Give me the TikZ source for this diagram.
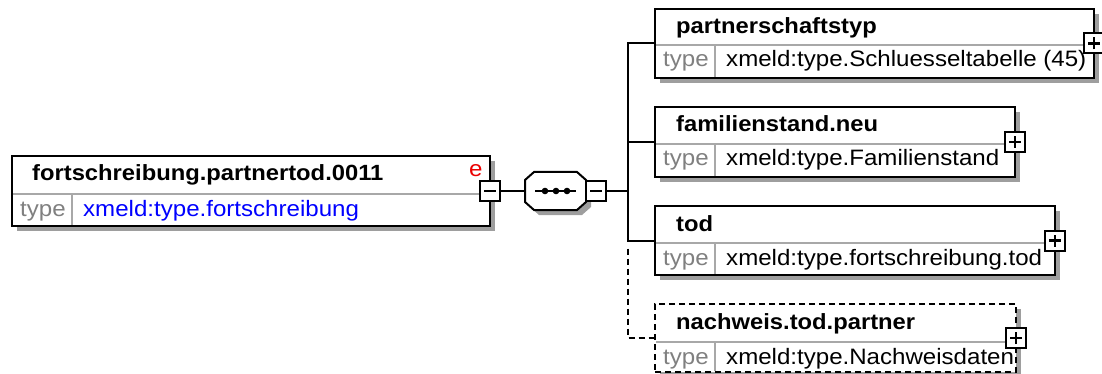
\documentclass[tikz,border=0pt]{standalone}
\usepackage{fontspec}
\setmainfont[FakeStretch=1.08]{Liberation Sans}
\usetikzlibrary{shadows}
\definecolor{shadowc}{gray}{0.62}
\definecolor{typec}{gray}{0.5}
\definecolor{innerc}{gray}{0.66}
\definecolor{valblue}{RGB}{0,0,255}
\definecolor{ered}{RGB}{235,0,0}
\begin{document}
\begin{tikzpicture}[x=1pt,y=-1pt,
  shad/.style={drop shadow={shadow xshift=5pt, shadow yshift=-5pt, fill=shadowc, opacity=1}},
  elbox/.style={draw=black, line width=2pt, fill=white, inner sep=0pt, outer sep=0pt, shad},
  optbox/.style={elbox, dash pattern=on 6pt off 4pt},
  expbox/.style={draw=black, line width=2pt, fill=white, minimum size=20pt, inner sep=0pt, outer sep=0pt},
  conn/.style={line width=2pt, draw=black},
  optconn/.style={conn, dash pattern=on 6pt off 4pt},
  innerln/.style={line width=2pt, draw=innerc},
  ttl/.style={anchor=base west, font=\fontsize{22pt}{26pt}\selectfont\bfseries, inner sep=0pt},
  tlab/.style={anchor=base west, font=\fontsize{22.3pt}{26pt}\selectfont, text=typec, inner sep=0pt},
  tval/.style={anchor=base west, font=\fontsize{22.3pt}{26pt}\selectfont, inner sep=0pt},
  symb/.style={line width=2.4pt, draw=black},
  seqframe/.style={draw=none, minimum width=61pt, minimum height=38pt, inner sep=0pt, outer sep=0pt},
  seqshape/.style={draw=black, line width=2pt, fill=white, line join=miter, shad},
]
\useasboundingbox (0,0) rectangle (1102,374);

% main element
\node[elbox, minimum width=478pt, minimum height=70pt] (main) at (251,191) {};
\draw[innerln] (13,194) -- (489,194);
\draw[innerln] (72,195) -- (72,225);
\node[ttl] (mainT) at (32,181) {fortschreibung.partnertod.0011};
\node[tlab] (mainL) at (20,216) {type};
\node[tval, text=valblue] (mainV) at (83,216) {xmeld:type.fortschreibung};
\node[anchor=base west, font=\fontsize{22.3pt}{26pt}\selectfont, text=ered, inner sep=0pt] (mainE) at (469,176) {e};
\node[expbox] (mainX) at (main.east) {};
\draw[symb] ([xshift=-6pt]mainX.center) -- ([xshift=6pt]mainX.center);

% sequence compositor
\node[seqframe] (seq) at (555.5,191) {};
\draw[seqshape] ([xshift=9pt]seq.north west) -- ([xshift=-9pt]seq.north east)
  -- ([yshift=-8pt]seq.north east) -- ([yshift=8pt]seq.south east)
  -- ([xshift=-9pt]seq.south east) -- ([xshift=9pt]seq.south west)
  -- ([yshift=8pt]seq.south west) -- ([yshift=-8pt]seq.north west) -- cycle;
\draw[conn] ([xshift=-20.5pt]seq.center) -- ([xshift=20.5pt]seq.center);
\fill ([xshift=-10.5pt]seq.center) circle (3.3pt);
\fill ([xshift=0.5pt]seq.center) circle (3.3pt);
\fill ([xshift=11.5pt]seq.center) circle (3.3pt);
\node[expbox, anchor=west] (seqX) at (seq.east) {};
\draw[symb] ([xshift=-6pt]seqX.center) -- ([xshift=6pt]seqX.center);
\draw[conn] (mainX.east) -- (seq.west);

% children
\node[elbox, minimum width=439pt, minimum height=69pt] (box1) at (874.5,43.5) {};
\draw[innerln] (656,45) -- (1093,45);
\draw[innerln] (715,46) -- (715,77);
\node[ttl] (t1) at (676,34) {partnerschaftstyp};
\node[tlab] (l1) at (663,67) {type};
\node[tval] (v1) at (726,67) {xmeld:type.Schluesseltabelle (45)};
\node[expbox] (x1) at (box1.east) {};
\draw[symb] ([xshift=-6pt]x1.center) -- ([xshift=6pt]x1.center);
\draw[symb] ([yshift=-6pt]x1.center) -- ([yshift=6pt]x1.center);

\node[elbox, minimum width=360pt, minimum height=70pt] (box2) at (835,142) {};
\draw[innerln] (656,144) -- (1014,144);
\draw[innerln] (715,145) -- (715,176);
\node[ttl] (t2) at (676,132) {familienstand.neu};
\node[tlab] (l2) at (663,166) {type};
\node[tval] (v2) at (726,166) {xmeld:type.Familienstand};
\node[expbox] (x2) at (box2.east) {};
\draw[symb] ([xshift=-6pt]x2.center) -- ([xshift=6pt]x2.center);
\draw[symb] ([yshift=-6pt]x2.center) -- ([yshift=6pt]x2.center);

\node[elbox, minimum width=400pt, minimum height=69pt] (box3) at (855,240.5) {};
\draw[innerln] (656,243) -- (1054,243);
\draw[innerln] (715,244) -- (715,274);
\node[ttl] (t3) at (676,231) {tod};
\node[tlab] (l3) at (663,265) {type};
\node[tval] (v3) at (726,265) {xmeld:type.fortschreibung.tod};
\node[expbox] (x3) at (box3.east) {};
\draw[symb] ([xshift=-6pt]x3.center) -- ([xshift=6pt]x3.center);
\draw[symb] ([yshift=-6pt]x3.center) -- ([yshift=6pt]x3.center);

\node[optbox, minimum width=361pt, minimum height=68pt] (box4) at (835.5,338) {};
\draw[innerln] (656,342) -- (1015,342);
\draw[innerln] (715,343) -- (715,371);
\node[ttl] (t4) at (676,329) {nachweis.tod.partner};
\node[tlab] (l4) at (663,364) {type};
\node[tval] (v4) at (726,364) {xmeld:type.Nachweisdaten};
\node[expbox] (x4) at (box4.east) {};
\draw[symb] ([xshift=-6pt]x4.center) -- ([xshift=6pt]x4.center);
\draw[symb] ([yshift=-6pt]x4.center) -- ([yshift=6pt]x4.center);

% connectors
\coordinate (spine) at (628,191);
\coordinate (j1) at (box1.west -| spine);
\coordinate (j2) at (box2.west -| spine);
\coordinate (j3) at (box3.west -| spine);
\coordinate (j4) at (box4.west -| spine);
\draw[conn] (seqX.east) -- (spine);
\draw[conn, line join=miter] (box1.west) -- (j1) -- (j3) -- (box3.west);
\draw[conn] (box2.west) -- (j2);
\draw[optconn] ([yshift=-8pt]j3) -- (j4) -- (box4.west);
\end{tikzpicture}
\end{document}
